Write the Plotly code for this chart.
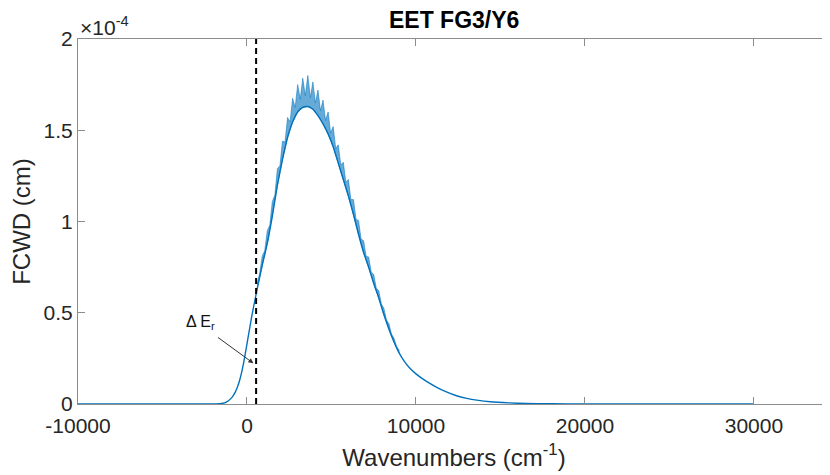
import plotly.graph_objects as go

# FCWD values are in units of 1e-4 cm
# Lower envelope (main line) of the spectrum
wn_lower = [-10000, -3000, -2000, -1500, -1200, -900, -750, -600, -450, -300,
            -150, 0, 150, 300, 450, 600, 900, 1200, 1500, 1800,
            2100, 2400, 2700, 3000, 3300, 3600, 3900, 4200, 4500, 4800,
            5100, 5400, 5700, 6000, 6300, 6600, 6900, 7200, 7500, 7800,
            8100, 8400, 8700, 9000, 9300, 9600, 10000, 10600, 11200, 11800,
            12400, 13000, 13600, 14400, 15500, 16500, 18000, 20000, 25000, 30000]
fcwd_lower = [0.0, 0.0, 0.0, 0.003, 0.012, 0.035, 0.055, 0.085, 0.125, 0.18,
              0.25, 0.33, 0.41, 0.49, 0.56, 0.63, 0.76, 0.88, 1.03, 1.20,
              1.34, 1.46, 1.545, 1.60, 1.625, 1.63, 1.615, 1.58, 1.535, 1.48,
              1.41, 1.32, 1.23, 1.14, 1.04, 0.93, 0.83, 0.75, 0.66, 0.58,
              0.49, 0.41, 0.34, 0.28, 0.235, 0.20, 0.165, 0.125, 0.093, 0.066,
              0.045, 0.031, 0.021, 0.012, 0.006, 0.003, 0.001, 0.0, 0.0, 0.0]

# Upper jagged edge of the vibronic fine structure (tips and valleys)
wn_upper = [600, 750, 900, 1050, 1200, 1350, 1500, 1650, 1800, 1950,
            2100, 2250, 2400, 2550, 2700, 2850, 3000, 3150, 3300, 3450,
            3600, 3750, 3900, 4050, 4200, 4350, 4500, 4650, 4800, 4950,
            5100, 5250, 5400, 5550, 5700, 5850, 6000, 6150, 6300, 6450,
            6600, 6750, 6900, 7050, 7200, 7350, 7500, 7650, 7800, 7950,
            8100, 8250, 8400, 8550, 8700, 8850, 9000]
fcwd_upper = [0.66, 0.715, 0.81, 0.84, 0.95, 0.98, 1.11, 1.145, 1.29, 1.305,
              1.44, 1.435, 1.57, 1.545, 1.675, 1.625, 1.75, 1.67, 1.785, 1.69,
              1.80, 1.68, 1.765, 1.65, 1.72, 1.607, 1.665, 1.553, 1.60, 1.485,
              1.52, 1.40, 1.42, 1.31, 1.325, 1.215, 1.23, 1.12, 1.12, 1.012,
              1.005, 0.904, 0.895, 0.81, 0.805, 0.723, 0.71, 0.635, 0.62, 0.548,
              0.525, 0.461, 0.44, 0.383, 0.36, 0.316, 0.295]

delta_er = 540  # position of dashed line (cm^-1)

x_tickvals = [-10000, 0, 10000, 20000, 30000]
x_ticktext = ["-10000", "0", "10000", "20000", "30000"]
y_tickvals = [0, 0.5, 1, 1.5, 2]
y_ticktext = ["0", "0.5", "1", "1.5", "2"]

BLUE = "#0072BD"
FONT = "Liberation Sans, Arial, Helvetica, sans-serif"

# band polygon: upper edge then lower edge in reverse over the same span
lo_pairs = [(x, y) for x, y in zip(wn_lower, fcwd_lower) if wn_upper[0] <= x <= wn_upper[-1]]
band_x = list(wn_upper) + [p[0] for p in reversed(lo_pairs)]
band_y = list(fcwd_upper) + [p[1] for p in reversed(lo_pairs)]

fig = go.Figure()
fig.add_trace(go.Scatter(x=band_x, y=band_y, mode="lines", fill="toself",
                         fillcolor="rgba(0,114,189,0.6)",
                         line=dict(color="rgba(0,114,189,0.65)", width=0.8),
                         hoverinfo="skip", showlegend=False))
fig.add_trace(go.Scatter(x=wn_lower, y=fcwd_lower, mode="lines",
                         line=dict(color=BLUE, width=1.4, shape="spline", smoothing=0.5),
                         showlegend=False))

fig.add_shape(type="line", x0=delta_er, x1=delta_er, y0=0, y1=2,
              xref="x", yref="y", line=dict(color="black", width=2, dash="6px,4px"))

fig.add_annotation(x=380, y=0.223, ax=-37, ay=-27, text="", showarrow=True,
                   arrowhead=2, arrowsize=1, arrowwidth=1, arrowcolor="#333333")
fig.add_annotation(x=-2770, y=0.444, text="Δ E<sub>r</sub>", showarrow=False,
                   font=dict(family=FONT, size=16, color="#111111"))
fig.add_annotation(x=0, y=1, xref="paper", yref="paper", xanchor="left", yanchor="bottom",
                   text="×10<sup>-4</sup>", showarrow=False, yshift=-2,
                   font=dict(family=FONT, size=21, color="#262626"))
fig.add_annotation(x=0.5, y=1, xref="paper", yref="paper", xanchor="center", yanchor="bottom",
                   text="<b>EET FG3/Y6</b>", showarrow=False, yshift=4,
                   font=dict(family=FONT, size=23, color="black"))

axis_common = dict(showgrid=False, zeroline=False, showline=True, linecolor="#8c8c8c",
                   linewidth=1, ticks="inside", ticklen=7, tickcolor="#8c8c8c",
                   mirror="ticks", automargin=False,
                   tickfont=dict(family=FONT, size=21, color="#262626"))

fig.update_xaxes(range=[-10000, 34500], tickvals=x_tickvals, ticktext=x_ticktext,
                 ticklabelstandoff=3,
                 title=dict(text="Wavenumbers (cm<sup>-1</sup>)", standoff=12,
                            font=dict(family=FONT, size=24, color="#262626")),
                 **axis_common)
fig.update_yaxes(range=[0, 2], tickvals=y_tickvals, ticktext=y_ticktext,
                 title=dict(text="FCWD (cm)", standoff=8,
                            font=dict(family=FONT, size=24, color="#262626")),
                 **axis_common)

# page body has an 8px margin; figure sized so the plot area lands at x 78-830, y 39-404
fig.update_layout(width=822, height=467, margin=dict(l=70, r=0, t=31, b=71),
                  plot_bgcolor="white", paper_bgcolor="white",
                  font=dict(family=FONT))

fig.write_html("out.html")
